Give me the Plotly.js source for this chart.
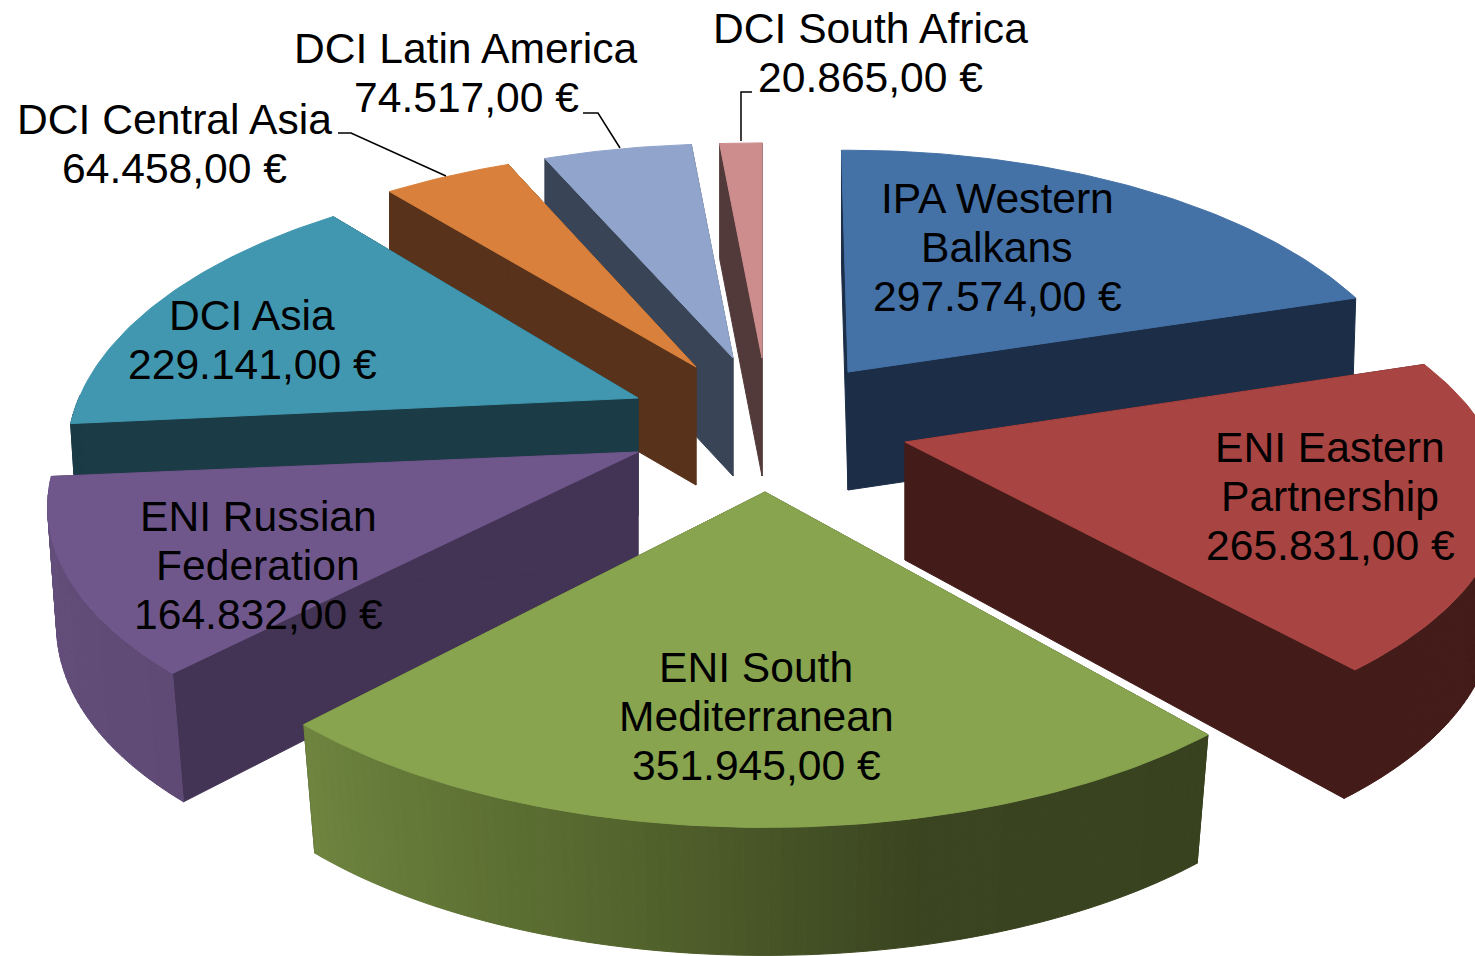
<!DOCTYPE html>
<html><head><meta charset="utf-8">
<script src="https://cdn.plot.ly/plotly-3.0.1.min.js"></script>
<style>html,body{margin:0;padding:0;background:#fff;overflow:hidden}#chart{width:1475px;height:956px}</style>
</head><body><div id="chart"></div>
<script>
// ---- data, clockwise from twelve o'clock ----
const categories = ["IPA Western Balkans","ENI Eastern Partnership","ENI South Mediterranean","ENI Russian Federation","DCI Asia","DCI Central Asia","DCI Latin America","DCI South Africa"];
const values = [297574,265831,351945,164832,229141,64458,74517,20865];
const nameLines = [["IPA Western","Balkans"],["ENI Eastern","Partnership"],["ENI South","Mediterranean"],["ENI Russian","Federation"],["DCI Asia"],["DCI Central Asia"],["DCI Latin America"],["DCI South Africa"]];

// ---- styling and placement ----
const topColors  = ["#4471a6","#a84442","#88a44f","#6f578c","#4097af","#d9813c","#91a5cc","#cd8d8d"];
const sideColors = ["#1c2e47","#431b19","#39421f","#433354","#1b3c46","#58321a","#394456","#533a3a"];
const arcStops   = [["#1c2e47","#1c2e47"],["#431b19","#431b19"],["#39421f","#3a4420","#57692f","#6e853f"],["#5f4a75","#644f7c"],["#1b3c46","#1b3c46"],["#58321a","#58321a"],["#394456","#394456"],["#533a3a","#533a3a"]];
const tips = [[848,372],[905,442],[765,492],[638,452],[638,398],[696,367],[733,358],[762,358]];
const radiusX = [563,586,582,578,559,562,563,572];
const radiusY = [267,253,267,259,271,262,258,259];
const viewTweak = [[-0.8,0],[-2,1.5],[2,-2],[-1,0],[0,0],[0,0],[0,0],[0,0]]; // foreshortening of each slice's edges, degrees
const labelAnchors = [[997,198],[1330,447],[756,667],[258,516],[252,315],[174,119],[466,48],[870,28]];
const drawOrder = [7,6,5,4,0,3,1,2];
const P = 0.204, LINE = 49;
const leaders = ["M338,133 L351,133 L446,176","M583,113 L598,113 L620,148","M752,92 L741,92 L741,141"];

const total = values.reduce((a,b)=>a+b,0);
const hex = h => [1,3,5].map(i=>parseInt(h.substr(i,2),16));
function mix(stops,t){
  const s=t*(stops.length-1), i=Math.min(Math.floor(s),stops.length-2), f=s-i;
  const a=hex(stops[i]), b=hex(stops[i+1]);
  return 'rgb('+a.map((c,k)=>Math.round(c+(b[k]-c)*f)).join(',')+')';
}
function rim(i,deg){
  const tip=tips[i], th=deg*Math.PI/180, u=Math.sin(th), v=-Math.cos(th), w=1-P*v;
  return {x:tip[0]+radiusX[i]*u/w, y:tip[1]+radiusY[i]*v/w, v};
}
function under(tip,p){
  const v=p.v, d= v>0 ? 118+26*v-16*v*v : 118+3*v, k=Math.max(0,0.012+0.016*v);
  return {x:p.x-(p.x-tip[0])*k, y:p.y+d};
}
const poly=(pts,color,name)=>({type:'scatter',mode:'lines',x:pts.map(p=>p.x),y:pts.map(p=>p.y),fill:'toself',fillcolor:color,
  line:{color:color,width:1},hoverinfo:'skip',showlegend:false,name:name});

let cum=0; const spans=values.map((v,i)=>{const s=[cum/total*360+viewTweak[i][0],(cum+v)/total*360+viewTweak[i][1]];cum+=v;return s;});
const traces=[];
drawOrder.forEach(i=>{
  const tip=tips[i],[a1,a2]=spans[i],n=Math.max(6,Math.ceil(a2-a1));
  const T={x:tip[0],y:tip[1],v:0}, Tb=under(tip,T);
  const rimPts=[];for(let k=0;k<=n;k++)rimPts.push(rim(i,a1+(a2-a1)*k/n));
  [rimPts[0],rimPts[n]].forEach(p=>{
    const b=under(tip,p);
    traces.push(poly([T,p,b,Tb,T],sideColors[i],categories[i]+' side'));
  });
  for(let k=0;k<n;k++){
    const p=rimPts[k],q=rimPts[k+1];
    if(q.v<=0&&p.v<=0)continue;
    traces.push(poly([p,q,under(tip,q),under(tip,p),p],mix(arcStops[i],(k+.5)/n),categories[i]+' rim'));
  }
  traces.push(poly([T,...rimPts,T],topColors[i],categories[i]));
});

const money=v=>String(v).replace(/\B(?=(\d{3})+$)/g,'.')+',00 €';
const annotations=[];
categories.forEach((c,i)=>{
  [...nameLines[i],money(values[i])].forEach((t,j)=>annotations.push({
    text:t,x:labelAnchors[i][0],y:labelAnchors[i][1]+j*LINE,xref:'x',yref:'y',xanchor:'center',yanchor:'middle',
    showarrow:false,font:{family:'"Liberation Sans",Arial,sans-serif',size:42.6,color:'#000'}}));
});
const hidden={range:[0,1475],visible:false,fixedrange:true};
Plotly.newPlot('chart',traces,{
  width:1475,height:956,margin:{l:0,r:0,t:0,b:0},paper_bgcolor:'#fff',plot_bgcolor:'#fff',showlegend:false,
  xaxis:hidden,yaxis:{...hidden,range:[956,0]},annotations,
  shapes:leaders.map(p=>({type:'path',path:p,xref:'x',yref:'y',line:{color:'#000',width:1.5}}))
},{displayModeBar:false,staticPlot:true});
</script></body></html>
